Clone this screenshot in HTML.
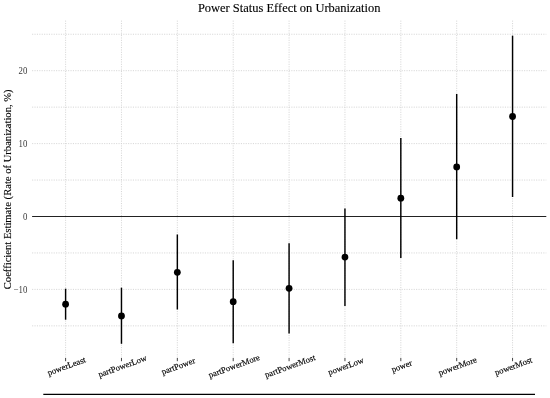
<!DOCTYPE html>
<html><head><meta charset="utf-8"><title>Power Status Effect on Urbanization</title>
<style>
html,body{margin:0;padding:0;background:#fff;}
svg{display:block;}
text{font-family:"Liberation Serif","Times New Roman",serif;}
.g{stroke:#d2d2d2;stroke-width:0.9;stroke-dasharray:1.1 1.3;fill:none;}
.tx{fill:#000;font-size:8.6px;stroke:#000;stroke-width:0.15;}
.ty{fill:#3a3a3a;font-size:8.8px;}
</style></head><body>
<svg width="550" height="398" viewBox="0 0 550 398">
<rect width="550" height="398" fill="#fff"/>
<line class="g" x1="32.1" x2="546.3" y1="325.85" y2="325.85"/>
<line class="g" x1="32.1" x2="546.3" y1="289.40" y2="289.40"/>
<line class="g" x1="32.1" x2="546.3" y1="252.95" y2="252.95"/>
<line class="g" x1="32.1" x2="546.3" y1="180.05" y2="180.05"/>
<line class="g" x1="32.1" x2="546.3" y1="143.60" y2="143.60"/>
<line class="g" x1="32.1" x2="546.3" y1="107.15" y2="107.15"/>
<line class="g" x1="32.1" x2="546.3" y1="70.70" y2="70.70"/>
<line class="g" x1="32.1" x2="546.3" y1="34.25" y2="34.25"/>
<line class="g" x1="65.60" x2="65.60" y1="20.6" y2="358.0"/>
<line x1="65.60" x2="65.60" y1="358.0" y2="361.2" stroke="#222" stroke-width="0.85"/>
<line class="g" x1="121.47" x2="121.47" y1="20.6" y2="358.0"/>
<line x1="121.47" x2="121.47" y1="358.0" y2="361.2" stroke="#222" stroke-width="0.85"/>
<line class="g" x1="177.34" x2="177.34" y1="20.6" y2="358.0"/>
<line x1="177.34" x2="177.34" y1="358.0" y2="361.2" stroke="#222" stroke-width="0.85"/>
<line class="g" x1="233.21" x2="233.21" y1="20.6" y2="358.0"/>
<line x1="233.21" x2="233.21" y1="358.0" y2="361.2" stroke="#222" stroke-width="0.85"/>
<line class="g" x1="289.08" x2="289.08" y1="20.6" y2="358.0"/>
<line x1="289.08" x2="289.08" y1="358.0" y2="361.2" stroke="#222" stroke-width="0.85"/>
<line class="g" x1="344.95" x2="344.95" y1="20.6" y2="358.0"/>
<line x1="344.95" x2="344.95" y1="358.0" y2="361.2" stroke="#222" stroke-width="0.85"/>
<line class="g" x1="400.82" x2="400.82" y1="20.6" y2="358.0"/>
<line x1="400.82" x2="400.82" y1="358.0" y2="361.2" stroke="#222" stroke-width="0.85"/>
<line class="g" x1="456.69" x2="456.69" y1="20.6" y2="358.0"/>
<line x1="456.69" x2="456.69" y1="358.0" y2="361.2" stroke="#222" stroke-width="0.85"/>
<line class="g" x1="512.56" x2="512.56" y1="20.6" y2="358.0"/>
<line x1="512.56" x2="512.56" y1="358.0" y2="361.2" stroke="#222" stroke-width="0.85"/>
<line x1="32.1" x2="546.3" y1="216.5" y2="216.5" stroke="#222" stroke-width="1"/>
<line x1="65.60" x2="65.60" y1="288.7" y2="319.7" stroke="#000" stroke-width="1.45"/>
<circle cx="65.60" cy="304.2" r="3.4" fill="#000"/>
<line x1="121.47" x2="121.47" y1="287.7" y2="343.8" stroke="#000" stroke-width="1.45"/>
<circle cx="121.47" cy="315.9" r="3.4" fill="#000"/>
<line x1="177.34" x2="177.34" y1="234.5" y2="309.5" stroke="#000" stroke-width="1.45"/>
<circle cx="177.34" cy="272.3" r="3.4" fill="#000"/>
<line x1="233.21" x2="233.21" y1="260.2" y2="343.2" stroke="#000" stroke-width="1.45"/>
<circle cx="233.21" cy="301.7" r="3.4" fill="#000"/>
<line x1="289.08" x2="289.08" y1="243.3" y2="333.4" stroke="#000" stroke-width="1.45"/>
<circle cx="289.08" cy="288.3" r="3.4" fill="#000"/>
<line x1="344.95" x2="344.95" y1="208.4" y2="306.0" stroke="#000" stroke-width="1.45"/>
<circle cx="344.95" cy="257.1" r="3.4" fill="#000"/>
<line x1="400.82" x2="400.82" y1="138.0" y2="258.0" stroke="#000" stroke-width="1.45"/>
<circle cx="400.82" cy="198.2" r="3.4" fill="#000"/>
<line x1="456.69" x2="456.69" y1="94.0" y2="239.2" stroke="#000" stroke-width="1.45"/>
<circle cx="456.69" cy="166.9" r="3.4" fill="#000"/>
<line x1="512.56" x2="512.56" y1="35.7" y2="197.0" stroke="#000" stroke-width="1.45"/>
<circle cx="512.56" cy="116.5" r="3.4" fill="#000"/>
<text class="ty" transform="translate(27.3,73.95) scale(1,1.07)" text-anchor="end">20</text>
<text class="ty" transform="translate(27.3,146.85) scale(1,1.07)" text-anchor="end">10</text>
<text class="ty" transform="translate(27.3,219.75) scale(1,1.07)" text-anchor="end">0</text>
<text class="ty" transform="translate(27.3,292.65) scale(1,1.07)" text-anchor="end">−10</text>
<text class="tx" text-anchor="middle" transform="translate(67.50,368.8) rotate(-20)">powerLeast</text>
<text class="tx" text-anchor="middle" transform="translate(123.37,368.8) rotate(-20)">partPowerLow</text>
<text class="tx" text-anchor="middle" transform="translate(179.24,368.8) rotate(-20)">partPower</text>
<text class="tx" text-anchor="middle" transform="translate(235.11,368.8) rotate(-20)">partPowerMore</text>
<text class="tx" text-anchor="middle" transform="translate(290.98,368.8) rotate(-20)">partPowerMost</text>
<text class="tx" text-anchor="middle" transform="translate(346.85,368.8) rotate(-20)">powerLow</text>
<text class="tx" text-anchor="middle" transform="translate(402.72,368.8) rotate(-20)">power</text>
<text class="tx" text-anchor="middle" transform="translate(458.59,368.8) rotate(-20)">powerMore</text>
<text class="tx" text-anchor="middle" transform="translate(514.46,368.8) rotate(-20)">powerMost</text>
<text x="289.2" y="12.0" text-anchor="middle" font-size="12.48px" fill="#000" stroke="#000" stroke-width="0.12">Power Status Effect on Urbanization</text>
<text transform="translate(11,189.3) rotate(-90)" text-anchor="middle" font-size="10.6px" fill="#000" stroke="#000" stroke-width="0.12">Coefficient Estimate (Rate of Urbanization, %)</text>
<line x1="43.3" x2="535" y1="394.4" y2="394.4" stroke="#000" stroke-width="1.3"/>
</svg></body></html>
